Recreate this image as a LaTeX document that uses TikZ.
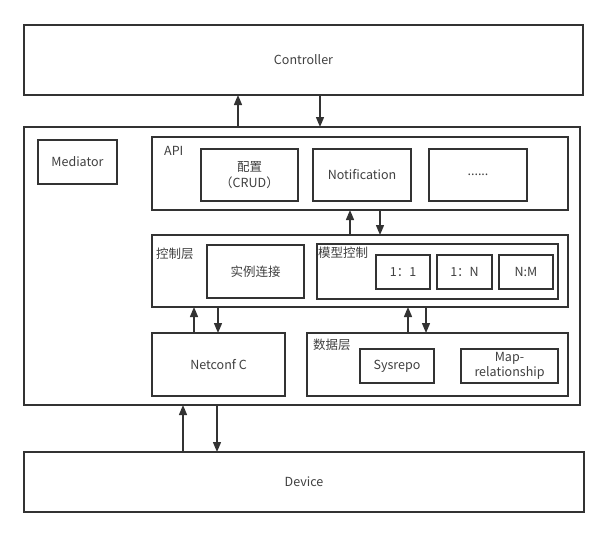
\documentclass[tikz,border=0pt]{standalone}
\usepackage{fontspec}
\setmainfont{Noto Sans CJK SC}
\usetikzlibrary{arrows.meta}
\definecolor{ink}{HTML}{333333}
\definecolor{txt}{HTML}{404040}
\tikzset{
  blk/.style={draw=ink, line width=1.4pt, fill=white, inner sep=0pt, outer sep=0pt,
    text=txt, font=\fontsize{12.5}{15.5}\selectfont, align=center},
  tag/.style={text=txt, font=\fontsize{12.5}{15}\selectfont, inner sep=0pt, anchor=north west},
  arr/.style={draw=ink, line width=1.4pt, -{Triangle[length=10pt,width=8pt]}}
}
% box from (x1,y1) to (x2,y2), y measured downward
\newcommand\boxat[6]{%
  \node[blk, minimum width=#4pt-#2pt, minimum height=#5pt-#3pt]
    (#1) at ({(#2+#4)/2},{(#3+#5)/2}) {#6};}
\begin{document}
\begin{tikzpicture}[x=1pt,y=-1pt]
\useasboundingbox (0,0) rectangle (610,536);

\boxat{ctrl}{24}{25}{583}{95}{Controller}
\boxat{main}{24}{127}{580}{405}{}
\boxat{dev}{24}{452}{584}{512}{Device}

\boxat{med}{38}{140}{117}{184}{Mediator}

% API layer
\boxat{api}{152}{137}{568}{210}{}
\node[tag] (apil) at (164,146) {API};
\boxat{cfg}{201}{149}{298}{201}{配置\\（CRUD）}
\boxat{ntf}{313}{149}{411}{201}{Notification}
\boxat{etc}{429}{149}{527}{201}{......}

% control layer
\boxat{ctl}{152}{235}{568}{307}{}
\node[tag] (ctll) at (156,248) {控制层};
\boxat{inst}{207}{245}{304}{298}{实例连接}
\boxat{mdl}{317}{244}{558}{299}{}
\node[tag] (mdll) at (318,247) {模型控制};
\boxat{r11}{376}{255}{430}{289}{1：1}
\boxat{r1n}{437}{255}{492}{289}{1：N}
\boxat{rnm}{499}{255}{553}{289}{N:M}

% netconf client and data layer
\boxat{nc}{152}{333}{285}{396}{Netconf C}
\boxat{data}{307}{333}{568}{396}{}
\node[tag] (datal) at (313,339) {数据层};
\boxat{sys}{360}{349}{434}{383}{Sysrepo}
\boxat{map}{461}{349}{558}{383}{\fontsize{12.5}{14}\selectfont Map-\\relationship}

% connectors
\draw[arr] (main.north -| 238,0) -- (ctrl.south -| 238,0);
\draw[arr] (ctrl.south -| 320,0) -- (main.north -| 320,0);
\draw[arr] (ctl.north -| 350,0) -- (api.south -| 350,0);
\draw[arr] (api.south -| 380,0) -- (ctl.north -| 380,0);
\draw[arr] (nc.north -| 194,0) -- (ctl.south -| 194,0);
\draw[arr] (ctl.south -| 218,0) -- (nc.north -| 218,0);
\draw[arr] (data.north -| 408,0) -- (ctl.south -| 408,0);
\draw[arr] (ctl.south -| 426,0) -- (data.north -| 426,0);
\draw[arr] (dev.north -| 183,0) -- (main.south -| 183,0);
\draw[arr] (main.south -| 217,0) -- (dev.north -| 217,0);
\end{tikzpicture}
\end{document}
